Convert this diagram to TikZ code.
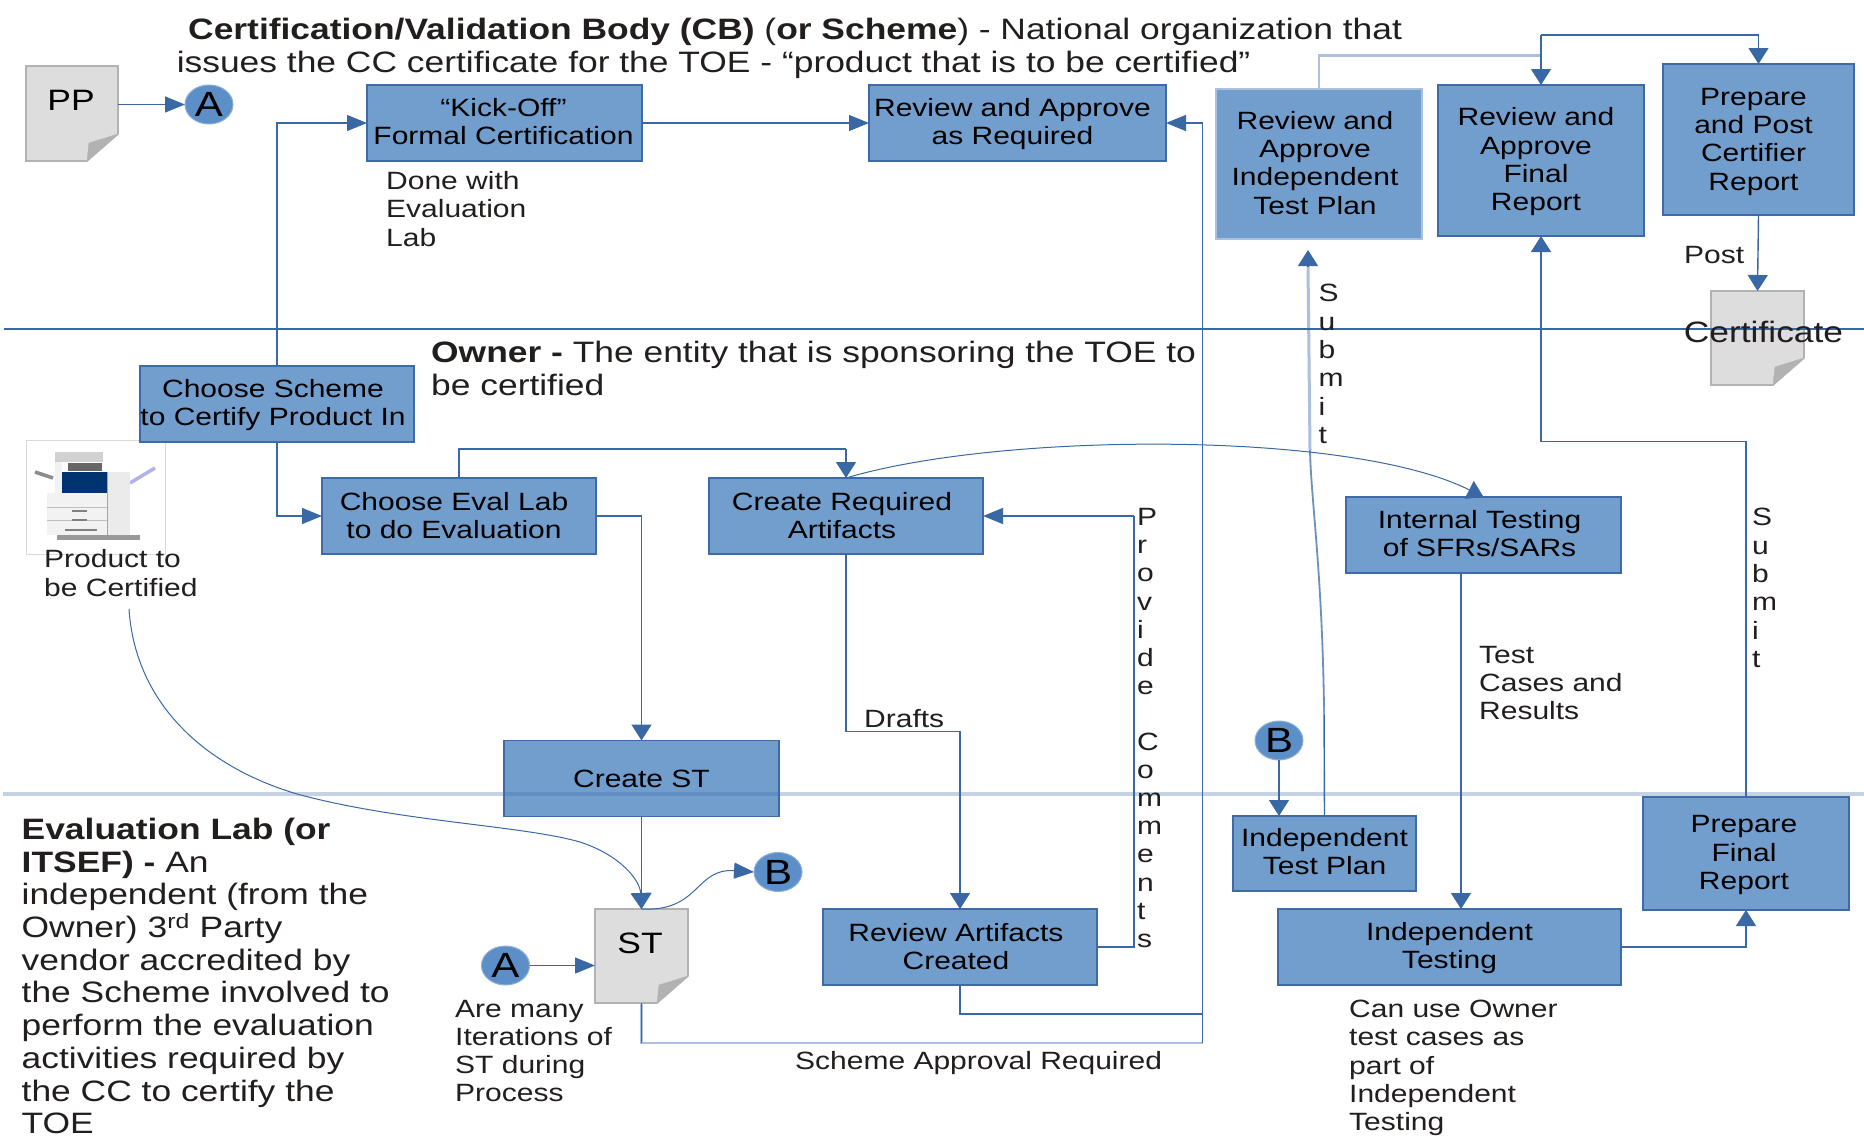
\documentclass[tikz,border=0pt]{standalone}
\usepackage{fontspec}
\setmainfont[FakeStretch=1.2]{Liberation Sans}
\usetikzlibrary{arrows.meta,shapes.geometric,calc}
\definecolor{boxfill}{RGB}{114,158,206}
\definecolor{boxedge}{RGB}{62,107,168}
\definecolor{linkcol}{RGB}{58,104,165}
\definecolor{palelink}{RGB}{170,192,220}
\definecolor{txt}{RGB}{35,30,30}
\definecolor{docfill}{RGB}{221,221,221}
\definecolor{docedge}{RGB}{178,178,178}
\definecolor{circfill}{RGB}{92,142,200}
\newcommand{\szbox}{\fontsize{25}{28.3}\selectfont}
\newcommand{\szbig}{\fontsize{29.5}{33}\selectfont}
\newcommand{\szlet}{\fontsize{35}{38}\selectfont}
% text block inside a box, offset by dx (right) and dy (up) from the box centre
\newcommand{\tl}[3]{\raisebox{#2pt}[\height][\depth]{\kern#1pt\begin{tabular}{@{}c@{}}#3\end{tabular}\kern-#1pt}}
\tikzset{
  x=1pt,y=-1pt,
  procbox/.style={draw=boxedge,fill=boxfill,line width=1.5pt,inner sep=0pt,outer sep=0pt,text=black,font=\szbox},
  docbox/.style={draw=docedge,fill=docfill,line width=1.5pt,inner sep=0pt,outer sep=0pt},
  letterc/.style={ellipse,draw=circfill!70!white,fill=circfill,line width=1pt,inner sep=0pt,outer sep=0pt,minimum width=48pt,minimum height=39pt,font=\szlet,text=black},
  note/.style={align=left,inner sep=0pt,anchor=west,font=\szbox,text=txt},
  head/.style={align=left,inner sep=0pt,anchor=west,font=\szbig,text=txt},
  plain/.style={draw=linkcol,line width=1.4pt},
  conn/.style={plain,-{Triangle[length=20pt,width=16pt]}},
  vconn/.style={plain,-{Triangle[length=16pt,width=20pt]}},
  thincurve/.style={draw=linkcol,line width=1pt},
  pale/.style={draw=palelink,line width=2.6pt},
  swim/.style={draw=linkcol,line width=1.2pt},
  swimpale/.style={draw=boxedge,opacity=.3,line width=4pt},
}
% name, centre x, centre y, width, height
\newcommand{\docnode}[5]{%
  \node[docbox,minimum width=#4pt,minimum height=#5pt] (#1) at (#2,#3) {};
  \fill[white] ($(#1.south east)+(1,1)$) -- ($(#1.south east)+(1,-27)$) -- ($(#1.south east)+(-31,1)$) -- cycle;
  \draw[docedge,line width=1.5pt] ($(#1.south east)+(0,-27)$) -- ($(#1.south east)+(-31,0)$);
  \fill[docedge,draw=docedge] ($(#1.south east)+(0,-27)$) -- ($(#1.south east)+(-29,-18)$) -- ($(#1.south east)+(-31,0)$) -- cycle;
}
\begin{document}
\begin{tikzpicture}
\useasboundingbox (0,0) rectangle (1864,1138);
\fill[white] (0,0) rectangle (1864,1138);

% product picture
\draw[black!15,line width=.8pt] (26,440) rectangle (165,554);
\draw[black!45,line width=3.5pt] (35,472) -- (53,478);
\draw[black!30!blue!30!white,line width=3.5pt] (130,483) -- (155,468);
\fill[black!8] (107,472) rectangle (130,538);
\fill[black!5] (47,493) rectangle (107,535);
\fill[black!5] (55,462) rectangle (62,493);
\fill[black!18] (55,452) rectangle (103,462);
\fill[black!60] (68,463) rectangle (102,471);
\fill[black!70!blue!80!cyan] (62,472) rectangle (108,493);
\fill[black!40] (57,535) rectangle (140,540);
\draw[black!25,line width=.8pt] (47,507) -- (107,507);
\draw[black!25,line width=.8pt] (47,520) -- (107,520);
\draw[black!50,line width=1.2pt] (72,511) -- (87,511);
\draw[black!50,line width=1.2pt] (72,520) -- (87,520);
\draw[black!50,line width=1.2pt] (65,530) -- (97,530);
\draw[black!35,line width=1pt] (107,472) -- (107,535);

% boxes
\node[procbox,minimum width=275pt,minimum height=76pt] (kick) at (504.5,123) {\tl{-1}{-2}{“Kick-Off”\\Formal Certification}};
\node[procbox,minimum width=297pt,minimum height=76pt] (reviewreq) at (1017.5,123) {\tl{-5}{-2}{Review and Approve\\as Required}};
\node[procbox,draw=palelink,minimum width=206pt,minimum height=150pt] (revplan) at (1319,164) {\tl{-4}{-2}{Review and\\Approve\\Independent\\Test Plan}};
\node[procbox,minimum width=206pt,minimum height=151pt] (revfinal) at (1541,160.5) {\tl{-5}{-2}{Review and\\Approve\\Final\\Report}};
\node[procbox,minimum width=191pt,minimum height=151pt] (prepost) at (1758.5,139.5) {\tl{-5}{-2.5}{Prepare\\and Post\\Certifier\\Report}};
\node[procbox,minimum width=274pt,minimum height=76pt] (scheme) at (277,404) {\tl{-4}{-2}{Choose Scheme\\to Certify Product In}};
\node[procbox,minimum width=274pt,minimum height=76pt] (evallab) at (459,516) {\tl{-5}{-3}{Choose Eval Lab\\to do Evaluation}};
\node[procbox,minimum width=274pt,minimum height=76pt] (artifacts) at (846,516) {\tl{-4}{-3}{Create Required\\Artifacts}};
\node[procbox,minimum width=275pt,minimum height=76pt] (internal) at (1483.5,535) {\tl{-4}{-2}{Internal Testing\\of SFRs/SARs}};
\node[procbox,minimum width=275pt,minimum height=76pt] (createst) at (641.5,778.5) {Create ST};
\node[procbox,minimum width=274pt,minimum height=76pt] (revart) at (960,947) {\tl{-4}{-3}{Review Artifacts\\Created}};
\node[procbox,minimum width=183pt,minimum height=75pt] (indplan) at (1324.5,853.5) {\tl{0}{-1.5}{Independent\\Test Plan}};
\node[procbox,minimum width=343pt,minimum height=76pt] (indtest) at (1449.5,947) {\tl{0}{-2}{Independent\\Testing}};
\node[procbox,minimum width=206pt,minimum height=113pt] (prepfinal) at (1746,853.5) {\tl{-2}{-2}{Prepare\\Final\\Report}};

% documents
\docnode{ppdoc}{72}{113.5}{92}{95}
\docnode{stdoc}{641.5}{956}{93}{94}
\docnode{certdoc}{1757.5}{338}{93}{94}

% circles
\node[letterc] (a1) at (209,104.5) {A};
\node[letterc] (b1) at (778,872) {B};
\node[letterc] (a2) at (505.5,965.5) {A};
\node[letterc] (b2) at (1279,740.5) {B};

% free ends
\coordinate (evalup) at (846,449);
\coordinate (splitA) at (1541,55.5);
\coordinate (splitB) at (1541,35);
\coordinate (draftsbend) at (960,731.6);
\coordinate (apprv) at (1202.5,123);
\coordinate (stcorner) at (1202.5,1043);
\coordinate (artcorner) at (1202.5,1014);
\coordinate (prodend) at (129,609);
\coordinate (subtop) at (1308,250);
\coordinate (subbend) at (1324,707);
\coordinate (subknee) at (1310,450);
\coordinate (comcorner) at (1134,516);
\coordinate (finalbend) at (1541,441.6);
\coordinate (inttop) at (1461,573);
\coordinate (testtop) at (1461,909);

% connectors
\draw[conn] (ppdoc.east |- a1.west) -- (a1.west);
\draw[conn] (scheme.north) |- (kick.west);
\draw[conn] (scheme.south) |- (evallab.west);
\draw[conn] (kick.east) -- (reviewreq.west);
\draw[plain] (evallab.north) |- (evalup);
\draw[vconn] (evalup) -- (artifacts.north);
\draw[vconn] (evallab.east) -| (createst.north);
\draw[vconn] (createst.south) -- (stdoc.north);
\draw[vconn] (artifacts.south) |- (draftsbend) -- (revart.north);
\draw[plain] (revart.east) -| (comcorner);
\draw[conn] (comcorner) -- (artifacts.east);
\draw[plain] (revart.south) |- (artcorner);
\draw[pale] (stdoc.south) |- (stcorner);
\draw[plain] (stdoc.south) -- ++(0,40);
\draw[plain] (stcorner) -- (artcorner);
\draw[conn] (artcorner) -- (apprv) -- (reviewreq.east);
\draw[pale] (revplan.north) |- (splitA);
\draw[vconn] (splitB) -- (revfinal.north);
\draw[vconn] (splitB) -| (prepost.north);
\draw[vconn] (prepost.south) -- (certdoc.north);
\draw[conn] (a2.east) -- (a2.east -| stdoc.west);
\draw[vconn] (b2.south) -- (b2.south |- indplan.north);
\draw[vconn] (inttop) -- (testtop);
\draw[vconn] (indtest.east) -| (prepfinal.south);
\draw[vconn] (prepfinal.north) |- (finalbend) -- (revfinal.south);
\draw[plain] (indplan.north) -- (subbend);
\draw[draw=linkcol!55!palelink,line width=1.8pt] (subbend) .. controls (1322,569) and (1311,500) .. (subknee);
\draw[draw=palelink,line width=3pt] (subknee) -- ($(subtop)+(0,16)$);
\draw[vconn,draw=linkcol] ($(subtop)+(0,17)$) -- (subtop);
\draw[thincurve,-{Triangle[length=16pt,width=20pt]}] (prodend) .. controls (135,700) and (200,765) .. (297,794) .. controls (400,822) and (520,825) .. (580,842) .. controls (620,855) and (640,880) .. (stdoc.north);
\draw[thincurve,-{Triangle[length=16pt,width=20pt]}] (artifacts.north) .. controls (1000,432) and (1350,430) .. (internal.north);
\draw[thincurve,-{Triangle[length=20pt,width=16pt]}] (stdoc.north) .. controls (700,912) and (695,868) .. (b1.west);

% swimlane rules
\coordinate (l1a) at (4,329); \coordinate (l1b) at (1864,329);
\coordinate (l2a) at (3,794); \coordinate (l2b) at (1864,794);
\draw[swim] (l1a) -- (l1b);
\draw[swimpale] (l2a) -- (l2b);

% headings
\node[head] (h1) at (188,32) {\textbf{Certification/Validation Body (CB)} (\textbf{or Scheme}) - National organization that};
\node[head] (h2) at (176.6,65) {issues the CC certificate for the TOE - “product that is to be certified”};
\node[head] (h3) at (431,368.5) {\textbf{Owner -} The entity that is sponsoring the TOE to\\be certified};
\node[head,font=\fontsize{29.5}{32.7}\selectfont] (h4) at (21.5,976) {\textbf{Evaluation Lab (or}\\\textbf{ITSEF) -} An\\independent (from the\\Owner) 3\textsuperscript{rd} Party\\vendor accredited by\\the Scheme involved to\\perform the evaluation\\activities required by\\the CC to certify the\\TOE};

% doc labels
\node[font=\szbig,inner sep=0pt,text=black] (pplabel) at (71,100) {PP};
\node[font=\szbig,inner sep=0pt,text=black] (stlabel) at (640,943) {ST};
\node[font=\szbig,inner sep=0pt,text=txt] (certlabel) at (1763.5,332) {Certificate};

% notes
\node[note] (n1) at (386,209) {Done with\\Evaluation\\Lab};
\node[note] (n2) at (1684,255) {Post};
\node[note] (n3) at (1318.5,364) {S\\u\\b\\m\\i\\t};
\node[note] (n4) at (44,573) {Product to\\be Certified};
\node[note,font=\fontsize{25}{28.1}\selectfont] (n5) at (1137,728) {P\\r\\o\\v\\i\\d\\e\\~\\C\\o\\m\\m\\e\\n\\t\\s};
\node[note] (n6) at (1752,588) {S\\u\\b\\m\\i\\t};
\node[note] (n7) at (864,719) {Drafts};
\node[note] (n8) at (1479,683) {Test\\Cases and\\Results};
\node[note] (n9) at (455,1051) {Are many\\Iterations of\\ST during\\Process};
\node[note] (n10) at (795,1063) {Scheme Approval Required};
\node[note] (n11) at (1349,1068) {Can use Owner\\test cases as\\part of\\Independent\\Testing};
\end{tikzpicture}
\end{document}
